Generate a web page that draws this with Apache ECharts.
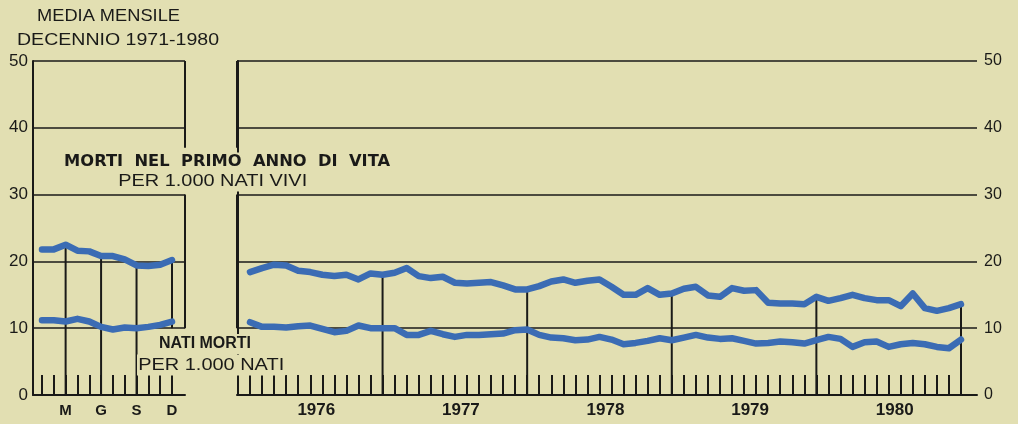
<!DOCTYPE html>
<html>
<head>
<meta charset="utf-8">
<script src="https://cdn.jsdelivr.net/npm/echarts@6/dist/echarts.min.js"></script>
<style>
  html, body { margin: 0; padding: 0; background: #e2dfb2; }
  #chart { width: 1018px; height: 424px; }
</style>
</head>
<body>
<div id="chart"></div>
<script>
// media mensile decennio 1971-1980 (mesi 1..12)
const decadeMonths = [1, 2, 3, 4, 5, 6, 7, 8, 9, 10, 11, 12];
const infantDecade = [21.8, 21.8, 22.5, 21.6, 21.5, 20.8, 20.8, 20.3, 19.4, 19.3, 19.5, 20.2];
const stillDecade = [11.2, 11.2, 11.0, 11.4, 11.0, 10.2, 9.8, 10.1, 10.0, 10.2, 10.5, 11.0];
const quarterMonths = [3, 6, 9, 12];
const quarterLabels = ['M', 'G', 'S', 'D'];
const quarterFoot = [0, 0, 0, 10];

// serie mensile 1976-1980 (mesi 1..60)
const years = ['1976', '1977', '1978', '1979', '1980'];
const infantMonthly = [
  18.4, 19.0, 19.5, 19.4, 18.6, 18.4, 18.0, 17.8, 18.0, 17.3, 18.2, 18.0,
  18.3, 19.0, 17.8, 17.5, 17.7, 16.8, 16.7, 16.8, 16.9, 16.4, 15.8, 15.8,
  16.3, 17.0, 17.3, 16.8, 17.1, 17.3, 16.2, 15.0, 15.0, 16.0, 15.0, 15.2,
  15.9, 16.2, 14.9, 14.7, 16.0, 15.6, 15.7, 13.8, 13.7, 13.7, 13.6, 14.7,
  14.1, 14.5, 15.0, 14.5, 14.2, 14.2, 13.3, 15.2, 13.0, 12.6, 13.0, 13.6
];
const stillMonthly = [
  10.9, 10.2, 10.2, 10.1, 10.3, 10.4, 9.9, 9.4, 9.6, 10.4, 10.0, 10.0,
  10.0, 9.0, 9.0, 9.6, 9.1, 8.7, 9.0, 9.0, 9.1, 9.2, 9.7, 9.8,
  9.0, 8.6, 8.5, 8.2, 8.3, 8.7, 8.3, 7.6, 7.8, 8.1, 8.5, 8.2,
  8.6, 9.0, 8.6, 8.4, 8.5, 8.1, 7.7, 7.8, 8.0, 7.9, 7.7, 8.2,
  8.7, 8.4, 7.2, 7.9, 8.0, 7.2, 7.6, 7.8, 7.6, 7.2, 7.0, 8.3
];

const paper = '#e2dfb2';
const ink = '#1a1a18';
const blue = '#3b6cb4';

const leftMin = 0.24, leftMax = 13.1;
const rightMin = -0.08, rightMax = 61.33;

const monthIdx = infantMonthly.map((v, i) => i + 1);

// frame pieces (value units), broken where the titles sit
const leftFrame = [[leftMax, 50, 37], [leftMax, 30, 10]];
const rightFrame = [[rightMin, 50, 37], [rightMin, 30, 10]];

const quarterRules = quarterMonths.map((m, k) => [m, infantDecade[m - 1], quarterFoot[k]]);
const yearRules = years.map((y, k) => [12 * (k + 1), infantMonthly[12 * (k + 1) - 1], 0]);

function renderRule(params, api) {
  const a = api.coord([api.value(0), api.value(1)]);
  const b = api.coord([api.value(0), api.value(2)]);
  return {
    type: 'line',
    shape: { x1: a[0], y1: a[1], x2: b[0], y2: b[1] },
    style: { stroke: ink, lineWidth: 2 }
  };
}

const measureCtx = document.createElement('canvas').getContext('2d');
function fitText(text, font, left, right, cy, bg) {
  measureCtx.font = font;
  const w = measureCtx.measureText(text).width;
  const el = {
    type: 'text', x: left, y: cy, scaleX: (right - left) / w, z: 50,
    style: { text: text, font: font, fill: ink, align: 'left', verticalAlign: 'middle' }
  };
  if (bg) {
    el.style.backgroundColor = paper;
    el.style.padding = [2, 1];
  }
  return el;
}

function ruleSeries(data, idx) {
  return {
    type: 'custom', renderItem: renderRule, clip: false, silent: true,
    xAxisIndex: idx, yAxisIndex: idx, z: 3,
    encode: { x: 0, y: [1, 2] }, data: data
  };
}

function lineSeries(xs, ys, idx) {
  return {
    type: 'line', xAxisIndex: idx, yAxisIndex: idx, symbol: 'none', z: 4,
    lineStyle: { color: blue, width: 6.5, join: 'round', cap: 'round' },
    data: xs.map((x, i) => [x, ys[i]])
  };
}

const yAxisBase = {
  type: 'value', min: 0, max: 50, interval: 10,
  axisLine: { show: true, lineStyle: { color: ink, width: 2 } },
  axisTick: { show: false },
  splitLine: { show: true, lineStyle: { color: ink, width: 1.6 } },
  axisLabel: { color: ink, fontFamily: 'Liberation Sans', fontSize: 17 }
};

const xAxisBase = {
  type: 'value',
  axisLine: { show: true, lineStyle: { color: ink, width: 2 } },
  splitLine: { show: false },
  axisTick: { show: true, inside: true, length: 20, lineStyle: { color: ink, width: 2 } }
};

const chart = echarts.init(document.getElementById('chart'), null, { renderer: 'canvas' });

const option = {
  backgroundColor: paper,
  animation: false,
  grid: [
    { left: 33, top: 61, width: 152, height: 334 },
    { left: 237, top: 61, width: 740, height: 334 }
  ],
  xAxis: [
    Object.assign({}, xAxisBase, {
      gridIndex: 0, min: leftMin, max: leftMax,
      axisTick: Object.assign({}, xAxisBase.axisTick, { customValues: decadeMonths }),
      axisLabel: {
        customValues: quarterMonths, margin: 8, color: ink,
        fontFamily: 'Liberation Sans', fontWeight: 'bold', fontSize: 15,
        formatter: v => quarterLabels[quarterMonths.indexOf(Math.round(v))]
      }
    }),
    Object.assign({}, xAxisBase, {
      gridIndex: 1, min: rightMin, max: rightMax,
      axisTick: Object.assign({}, xAxisBase.axisTick, { customValues: monthIdx }),
      axisLabel: {
        customValues: years.map((y, k) => 12 * k + 6.5), margin: 7, color: ink,
        fontFamily: 'Liberation Sans', fontWeight: 'bold', fontSize: 17,
        formatter: v => years[Math.round((v - 6.5) / 12)]
      }
    })
  ],
  yAxis: [
    Object.assign({}, yAxisBase, {
      gridIndex: 0, position: 'left',
      axisLabel: Object.assign({}, yAxisBase.axisLabel, { margin: 5 })
    }),
    Object.assign({}, yAxisBase, {
      gridIndex: 1, position: 'right',
      axisLabel: Object.assign({}, yAxisBase.axisLabel, { margin: 7, fontSize: 16 })
    })
  ],
  series: [
    ruleSeries(leftFrame, 0),
    ruleSeries(rightFrame, 1),
    ruleSeries(quarterRules, 0),
    ruleSeries(yearRules, 1),
    lineSeries(decadeMonths, infantDecade, 0),
    lineSeries(decadeMonths, stillDecade, 0),
    lineSeries(monthIdx, infantMonthly, 1),
    lineSeries(monthIdx, stillMonthly, 1)
  ],
  graphic: [
    fitText('MEDIA MENSILE', '17px "Liberation Sans"', 37, 180, 16),
    fitText('DECENNIO 1971-1980', '17px "Liberation Sans"', 17, 219, 40),
    fitText('MORTI  NEL  PRIMO  ANNO  DI  VITA', 'bold 15px "DejaVu Sans"', 63, 389, 162, true),
    fitText('PER 1.000 NATI VIVI', '17px "Liberation Sans"', 117, 306, 181, true),
    fitText('NATI MORTI', 'bold 16px "Liberation Sans"', 158, 250, 344, true),
    fitText('PER 1.000 NATI', '17px "Liberation Sans"', 137, 283, 365, true)
  ]
};

chart.setOption(option);
</script>
</body>
</html>
